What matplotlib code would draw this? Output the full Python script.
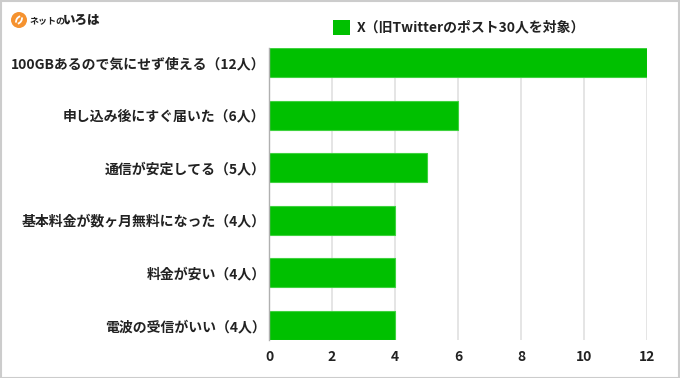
import matplotlib
matplotlib.use("Agg")
import matplotlib.pyplot as plt
from matplotlib.patches import Rectangle, Ellipse, Arc

plt.rcParams['font.family'] = ['Noto Sans CJK JP', 'DejaVu Sans']

categories = [
    "100GBあるので気にせず使える（12人）",
    "申し込み後にすぐ届いた（6人）",
    "通信が安定してる（5人）",
    "基本料金が数ヶ月無料になった（4人）",
    "料金が安い（4人）",
    "電波の受信がいい（4人）",
]
values = [12, 6, 5, 4, 4, 4]
series_name = "X（旧Twitterのポスト30人を対象）"
xticks = [0, 2, 4, 6, 8, 10, 12]

W, H = 680, 378
fig = plt.figure(figsize=(W / 100, H / 100), dpi=100)
ax = fig.add_axes([269 / W, 1 - 340 / H, (647 - 269) / W, (340 - 48) / H])

bar_h = 0.55
ypos = list(range(len(categories)))
ax.barh(ypos, values, height=bar_h, color="#00c000", edgecolor="#3fd23f",
        linewidth=0.8, zorder=3)
ax.set_ylim(len(categories) - 1 + bar_h / 2, -bar_h / 2)
ax.set_xlim(0, 12)
ax.set_xticks(xticks)
ax.set_xticklabels([str(t) for t in xticks], fontsize=10, fontweight="bold", color="#222222")
ax.set_yticks(ypos)
ax.set_yticklabels(categories, fontsize=10, fontweight="bold", color="#222222")
ax.tick_params(axis="both", length=0)
ax.tick_params(axis="y", pad=2.5)
ax.tick_params(axis="x", pad=7.5)
ax.grid(axis="x", color="#e0e0e0", linewidth=1.2, zorder=0)
for s in ["top", "right", "bottom"]:
    ax.spines[s].set_visible(False)
ax.spines["left"].set_color("#b0b0b0")
ax.spines["left"].set_linewidth(1)
ax.spines["left"].set_zorder(4)

# legend
fig.patches.append(Rectangle((333 / W, 1 - 35 / H), 17 / W, 15 / H, transform=fig.transFigure,
                             facecolor="#00c000", edgecolor="none"))
fig.text(357 / W, 1 - 27.5 / H, series_name, fontsize=10, fontweight="bold",
         color="#222222", va="center", ha="left")

# logo
cx, cy = 19 / W, 1 - 20 / H
fig.patches.append(Ellipse((cx, cy), 16 / W, 16 / H, transform=fig.transFigure,
                           facecolor="#f5922f", edgecolor="none"))
fig.patches.append(Arc((cx - 3 / W, cy + 2 / H), 12 / W, 12 / H, theta1=-80, theta2=10,
                       transform=fig.transFigure, color="white", linewidth=1.3))
fig.patches.append(Arc((cx + 3 / W, cy - 2 / H), 12 / W, 12 / H, theta1=100, theta2=190,
                       transform=fig.transFigure, color="white", linewidth=1.3))
fig.text(30 / W, 1 - 20.5 / H, "ネットの", fontsize=6.5, fontweight="bold",
         color="#222222", va="center", ha="left")
fig.text(63 / W, 1 - 20 / H, "いろは", fontsize=9, fontweight="heavy",
         color="#222222", va="center", ha="left")

# outer border
fig.patches.append(Rectangle((0.5 / W, 0.5 / H), (W - 1.5) / W, (H - 1.5) / H,
                             transform=fig.transFigure, facecolor="none",
                             edgecolor="#cccccc", linewidth=1.5))

fig.savefig("out.png", dpi=100)
